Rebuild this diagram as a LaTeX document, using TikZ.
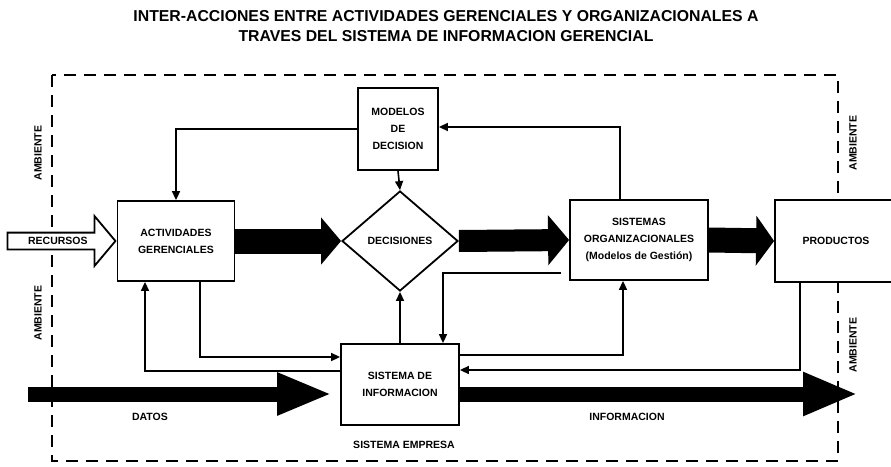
\documentclass[tikz,border=0pt]{standalone}
\usepackage{fontspec}
\setmainfont{Liberation Sans}
\usetikzlibrary{arrows.meta,calc,shapes.geometric,shapes.arrows}
\newcommand{\boxfont}{\bfseries\fontsize{10.5}{17}\selectfont}
\newcommand{\titlefont}{\bfseries\fontsize{15.8}{19.5}\selectfont}
\tikzset{
    box/.style={draw, line width=1.8pt, fill=white, inner sep=0pt,
                align=center, font=\boxfont},
    choice/.style={diamond, draw, line width=1.8pt, fill=white, aspect=1.16,
                   inner sep=0pt, minimum width=116pt, minimum height=100pt,
                   font=\boxfont},
    flow/.style={-{Triangle[length=9pt,width=8pt]}, line width=1.6pt},
    fat/.style n args={3}{line width=#1, -{Triangle[length=#2,width=#3]}},
    note/.style={font=\boxfont, align=center},
    border/.style={dash pattern=on 12pt off 8pt, line width=1.8pt},
}
\newcommand{\ambiente}[1]{
    \node[note, rotate=90] at (#1) {AMBIENTE};
}

\begin{document}
\begin{tikzpicture}[x=1pt, y=-1pt]
    \path[use as bounding box] (0,0) rectangle (891,466);

    \node[font=\titlefont, align=center] (title) at (446,26)
        {INTER-ACCIONES ENTRE ACTIVIDADES GERENCIALES Y ORGANIZACIONALES A\\
         TRAVES DEL SISTEMA DE INFORMACION GERENCIAL};

    \draw[border] (52,75) rectangle (838,461);

    \node[box, minimum width=80pt, minimum height=82pt] (modelos) at (398,129) {MODELOS\\DE\\DECISION};
    \node[box, minimum width=117pt, minimum height=80pt] (act) at (176,241) {ACTIVIDADES\\GERENCIALES};
    \node[choice] (dec) at (400,241) {DECISIONES};
    \node[box, minimum width=138pt, minimum height=80pt] (sisorg) at (639,240)
        {SISTEMAS\\ORGANIZACIONALES\\(Modelos de Gesti\'on)};
    \node[box, minimum width=122pt, minimum height=82pt] (prod) at (836,241) {PRODUCTOS};
    \node[box, minimum width=118pt, minimum height=81pt] (sisinf) at (400,384.5) {SISTEMA DE\\INFORMACION};

    \node[single arrow, draw, line width=1.8pt, fill=white, font=\boxfont,
          text height=7.6pt, text depth=0pt, inner ysep=3.7pt, inner xsep=2pt,
          minimum height=108pt, single arrow head extend=16.5pt,
          single arrow tip angle=100, anchor=tip] (recursos) at (act.west) {RECURSOS};

    \draw[fat={25pt}{20pt}{46pt}] (act.east) -- (dec.west);
    \draw[fat={22pt}{21pt}{49pt}] (dec.east) -- (sisorg.west);
    \draw[fat={25pt}{18pt}{49pt}] (sisorg.east) -- (prod.west);

    \coordinate (datosin) at (28,394);
    \coordinate (infoout) at (858,394);
    \draw[fat={15pt}{55pt}{39pt}] (datosin) -- ($(sisinf.west |- datosin)+(-8,0)$);
    \draw[fat={15pt}{55pt}{40pt}] (sisinf.east |- infoout) -- (infoout);

    \draw[flow] (modelos.west) -| (act.north);
    \draw[flow] (modelos.south) -- (dec.north);
    \draw[flow] ([xshift=-19pt]sisorg.north) |- ([yshift=2pt]modelos.east);
    \draw[flow] ([xshift=24pt]act.south) |- ([yshift=27.5pt]sisinf.west);
    \draw[flow] ([yshift=13.5pt]sisinf.west) -| ([xshift=-31pt]act.south);
    \draw[flow] (sisinf.north) -- (dec.south);
    \draw[flow] ([xshift=-8pt,yshift=-33pt]sisorg.west) -| ([xshift=43pt]sisinf.north);
    \draw[flow] ([yshift=29.5pt]sisinf.east) -| ([xshift=-16pt]sisorg.south);
    \draw[flow] ([xshift=-36pt]prod.south) |- ([yshift=14.5pt]sisinf.east);

    \ambiente{38,153}
    \ambiente{38,313}
    \ambiente{853,143}
    \ambiente{853,345}
    \node[note] (datos) at (150,417) {DATOS};
    \node[note] (informacion) at (627,417) {INFORMACION};
    \node[note] (empresa) at (404,445) {SISTEMA EMPRESA};

\end{tikzpicture}
\end{document}
